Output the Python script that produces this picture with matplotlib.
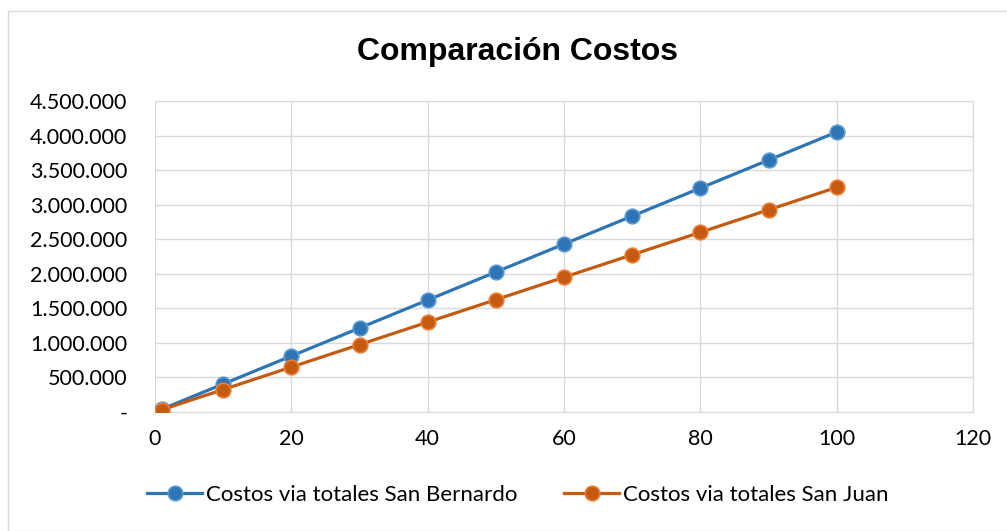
import numpy as np
import matplotlib
matplotlib.use("Agg")
from matplotlib import pyplot as plt
from matplotlib.ticker import FuncFormatter
from matplotlib.patches import Rectangle

#Data
cantidad=[1,10,20,30,40,50,60,70,80,90,100]
san_bernardo=[40500,405000,810000,1215000,1620000,2025000,2430000,2835000,3240000,3645000,4050000]
san_juan=[32500,325000,650000,975000,1300000,1625000,1950000,2275000,2600000,2925000,3250000]
labels=['Costos via totales San Bernardo','Costos via totales San Juan']

def miles(v,pos):
    if v==0:
        return '-'
    return '{:,.0f}'.format(v).replace(',','.')

fig=plt.figure(figsize=(10.07,5.31),dpi=100)
fig.patches.append(Rectangle((8/1007,0),1,1-11/531,transform=fig.transFigure,
    fill=False,edgecolor='#D9D9D9',linewidth=1))
ax=fig.add_axes([155/1007,1-412/531,(973-155)/1007,(412-101)/531])

ax.plot(cantidad,san_bernardo,color='#2E75B6',linewidth=2.3,marker='o',markersize=10.5,
    markerfacecolor='#2E75B6',markeredgecolor='#5B9BD5',markeredgewidth=1.2,label=labels[0],zorder=3)
ax.plot(cantidad,san_juan,color='#C55A11',linewidth=2.3,marker='o',markersize=10.5,
    markerfacecolor='#C55A11',markeredgecolor='#ED7D31',markeredgewidth=1.2,label=labels[1],zorder=3)

ax.set_xlim(0,120)
ax.set_ylim(0,4500000)
ax.set_xticks(np.arange(0,121,20))
ax.set_yticks(np.arange(0,4500001,500000))
ax.yaxis.set_major_formatter(FuncFormatter(miles))
ax.grid(True,color='#D9D9D9',linewidth=1)
ax.set_axisbelow(True)
for s in ax.spines.values():
    s.set_color('#D9D9D9')
ax.tick_params(length=0,labelsize=15.5,colors='black')
ax.tick_params(axis='x',pad=12)
ax.tick_params(axis='y',pad=20)
for t in ax.get_xticklabels()+ax.get_yticklabels():
    t.set_family('Lato')

fig.text(0.514,1-52/531,'Comparación Costos',ha='center',va='center',
    fontsize=23,fontweight='bold',family='Liberation Sans')

leg=fig.legend(loc='center',bbox_to_anchor=(0.514,1-495/531),ncol=2,frameon=False,
    prop={'family':'Lato','size':16},handlelength=2.5,handletextpad=0.15,columnspacing=2.1)

fig.savefig('out.png',dpi=100)
